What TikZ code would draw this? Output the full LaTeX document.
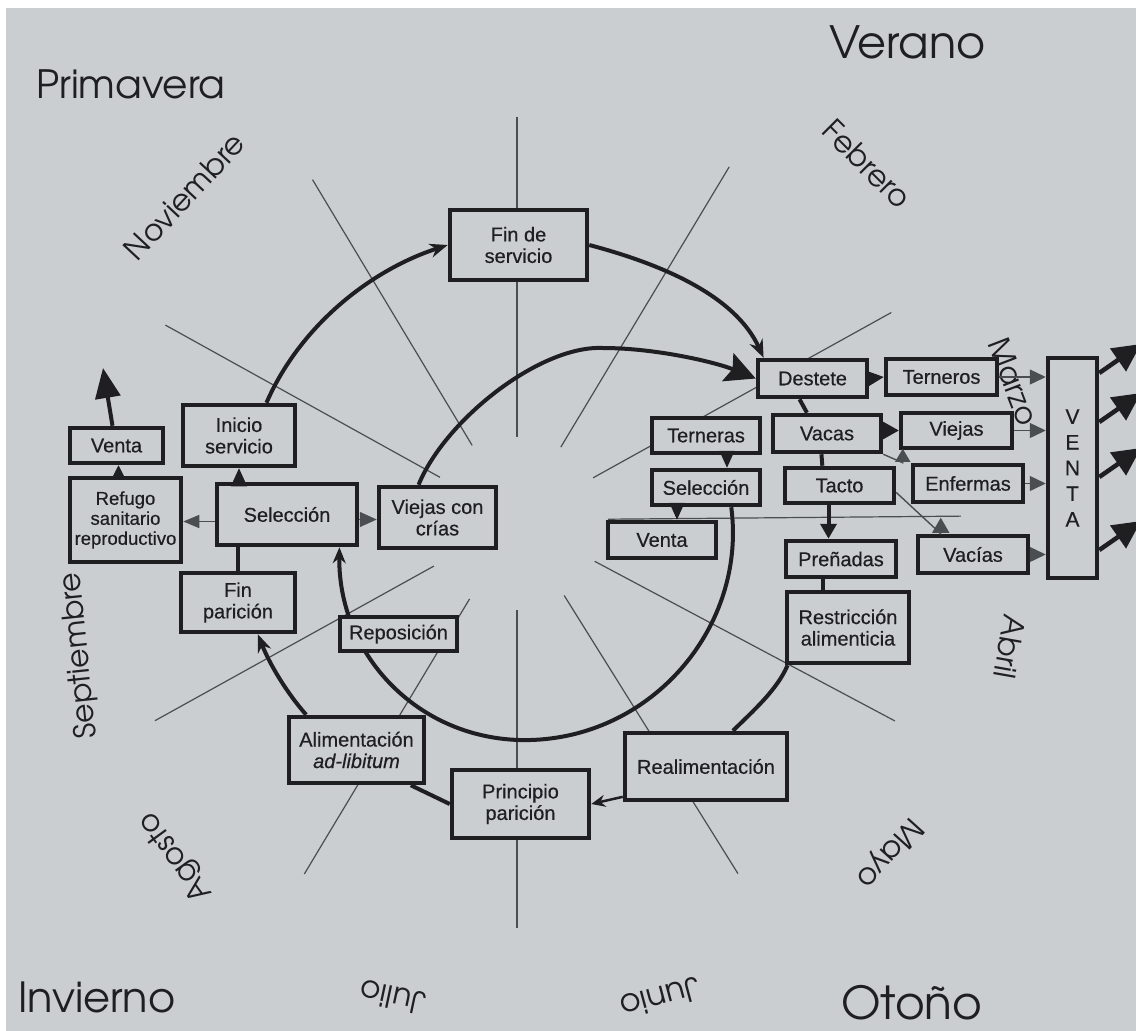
\documentclass[tikz,border=0pt]{standalone}
\usepackage{fontspec}
\setmainfont{Liberation Sans}[FakeBold=0.5]
\newfontfamily\gothic{texgyreadventor-regular.otf}
\usetikzlibrary{arrows.meta, backgrounds}

\definecolor{papel}{HTML}{CACED1}
\definecolor{tinta}{HTML}{1F1F21}
\definecolor{gris}{HTML}{4A4D51}

\tikzset{
  caja/.style={draw=tinta, fill=papel, line width=4.5pt, inner sep=0pt, align=center,
    text=tinta, font=\fontsize{20}{21.5}\selectfont},
  mes/.style={text=tinta, inner sep=0pt, font=\gothic\fontsize{#1}{#1}\selectfont},
  mes/.default=30,
  estacion/.style={text=tinta, inner sep=0pt, anchor=base west,
    font=\gothic\fontsize{#1}{#1}\selectfont},
  rayo/.style={draw=gris, line width=1.2pt},
  ciclo/.style={draw=tinta, line width=4pt},
  flecha/.style={ciclo, -{Stealth[length=18pt, width=14pt]}},
  tri/.style={draw=tinta, line width=1.2pt, -{Triangle[length=17pt, width=16pt]}},
  fino/.style={draw=gris, line width=1.4pt},
}

\begin{document}
\begin{tikzpicture}[x=1pt, y=-1pt]
  \useasboundingbox (0,0) rectangle (1136,1031);

  % estaciones y meses
  \node[estacion=39] (prim) at (36,98) {Primavera};
  \node[estacion=44.5] (ver) at (829,58) {Verano};
  \node[estacion=41.5] (inv) at (18,1012) {Invierno};
  \node[estacion=45.5] (oto) at (841,1019) {Otoño};
  \node[mes, rotate=47] (nov) at (184.5,196.5) {Noviembre};
  \node[mes, rotate=-45] (feb) at (867,164) {Febrero};
  \node[mes, rotate=-69] (mar) at (1013.5,381.5) {Marzo};
  \node[mes, rotate=-100] (abr) at (1010,647) {Abril};
  \node[mes, rotate=-132] (may) at (889,852.5) {Mayo};
  \node[mes=32, rotate=195] (jun) at (660.5,998) {Junio};
  \node[mes=31, rotate=168] (jul) at (393,997.5) {Julio};
  \node[mes, rotate=126] (ago) at (176,856.5) {Agosto};
  \node[mes, rotate=96] (sep) at (79.5,655.5) {Septiembre};

  % ciclo de la vaca
  \node[caja, minimum width=137, minimum height=70] (fin) at (518.5,245) {Fin de\\servicio};
  \node[caja, minimum width=112, minimum height=61] (inicio) at (239,435.5) {Inicio\\servicio};
  \node[caja, minimum width=93, minimum height=35] (ventaL) at (116.5,445.5) {Venta};
  \node[caja, minimum width=111, minimum height=84, font=\fontsize{18.5}{20}\selectfont]
    (refugio) at (125.5,520) {Refugo\\sanitario\\reproductivo};
  \node[caja, minimum width=140, minimum height=61] (selL) at (287,514.5) {Selección};
  \node[caja, minimum width=117, minimum height=61] (vcc) at (437.5,517.5) {Viejas con\\crías};
  \node[caja, minimum width=114, minimum height=59] (finp) at (238,602.5) {Fin\\parición};
  \node[caja, minimum width=117, minimum height=34] (repos) at (398.5,634) {Reposición};
  \node[caja, minimum width=135, minimum height=66] (alim) at (356.5,750) {Alimentación\\\textit{ad-libitum}};
  \node[caja, minimum width=137, minimum height=68] (princ) at (520.5,804) {Principio\\parición};
  \node[caja, minimum width=162, minimum height=67] (realim) at (706,766.5) {Realimentación};
  \node[caja, minimum width=122, minimum height=71] (restr) at (848,627.5) {Restricción\\alimenticia};

  % destete y descarte
  \node[caja, minimum width=109, minimum height=37] (destete) at (812.5,378.5) {Destete};
  \node[caja, minimum width=111, minimum height=36] (terneros) at (941.5,377) {Terneros};
  \node[caja, minimum width=108, minimum height=37] (vacas) at (827,433.5) {Vacas};
  \node[caja, minimum width=111, minimum height=35] (viejas) at (956.5,430.5) {Viejas};
  \node[caja, minimum width=108, minimum height=35] (terneras) at (706,435.5) {Terneras};
  \node[caja, minimum width=108, minimum height=35] (selR) at (706,487.5) {Selección};
  \node[caja, minimum width=108, minimum height=36] (ventaR) at (662,540) {Venta};
  \node[caja, minimum width=109, minimum height=35] (tacto) at (839.5,485.5) {Tacto};
  \node[caja, minimum width=110, minimum height=37] (enfermas) at (968,483.5) {Enfermas};
  \node[caja, minimum width=110, minimum height=37] (vacias) at (973,554.5) {Vacías};
  \node[caja, minimum width=110, minimum height=36] (pren) at (841,559) {Preñadas};
  \node[caja, minimum width=49, minimum height=220, font=\fontsize{21}{25.7}\selectfont]
    (venta) at (1072.5,468) {V\\E\\N\\T\\A};

  \begin{scope}[on background layer]
    \fill[white] (0,0) rectangle (1136,1031);
    \fill[papel] (6,8) rectangle (1136,1031);
    % rayos de los meses
    \begin{scope}[shift={(517,520)}]
      \foreach \a/\ri/\ro in {-90/83/403, -121/87/397, -151/88/402, -59/85/412, -29/87/428,
          -0.5/91/444, 28/88/428, 58/89/417, 90/90/408, 121/92/413, 151/95/414}
        \draw[rayo] (\a:\ri) -- (\a:\ro);
    \end{scope}
    % ciclo exterior
    \draw[flecha] (inicio.50) .. controls (299,328) and (368,271) .. (fin.west);
    \draw[flecha] (fin.east) .. controls (661,264) and (735,295) .. (destete.157);
    \draw[ciclo] (restr.-148) .. controls (777,690) and (753,711) .. (realim.53);
    \draw[ciclo] (princ.west) -- (alim.-33);
    \draw[flecha] (alim.145) .. controls (287,693) and (270,665) .. (finp.-58);
    \draw[ciclo] (finp.north) -- (finp.north |- selL.south);
    % ciclo interior
    \draw[ciclo, -{Stealth[length=30pt, width=30pt, inset=5pt]}] (vcc.120)
      .. controls (445,420) and (540,345) .. (603,348)
      .. controls (655,348) and (715,362) .. (destete.west);
    \draw[ciclo, -{Stealth[length=16pt, width=13pt]}] (selR.-38)
      .. controls (746,620) and (662,727) .. (546,739)
      .. controls (430,751) and (338,662) .. (selL.-32);
  \end{scope}

  \draw[draw=tinta, line width=2.5pt, -{Stealth[length=14pt, width=12pt]}] (realim.200) -- (princ.east);
  \draw[tri, -{Triangle[length=18pt, width=16pt]}] (inicio.south |- selL.north) -- (inicio.south);
  \draw[tri] (destete.east) -- (terneros.west);
  \draw[ciclo] (destete.-122) -- (vacas.134);
  \draw[tri, -{Triangle[length=18pt, width=20pt]}] (viejas.west -| vacas.east) -- (viejas.west);
  \draw[ciclo] (vacas.-105) -- (tacto.131);
  \draw[ciclo, -{Triangle[length=15pt, width=16pt]}] ([xshift=-11pt]tacto.south)
    -- ([xshift=-11pt]tacto.south |- pren.north);
  \draw[ciclo] ([xshift=-18pt]pren.south) -- ([xshift=-18pt]pren.south |- restr.north);
  \draw[tri, -{Triangle[length=17pt, width=15pt]}] ([xshift=21pt]terneras.south) -- ([xshift=21pt]selR.north);
  \draw[tri, -{Triangle[length=17pt, width=15pt]}] ([xshift=15pt]ventaR.north |- selR.south)
    -- ([xshift=15pt]ventaR.north);

  % descartes hacia VENTA
  \foreach \c in {terneros, viejas, enfermas, vacias}
    \draw[fino, -{Triangle[length=16pt, width=15pt]}] (\c.east) -- (\c.east -| venta.west);
  \draw[fino, -{Triangle[length=13pt, width=15pt]}] (vacas.south east)
    -- ([xshift=-8pt]enfermas.north west) -- ++(0,-14);
  \draw[fino, -{Triangle[length=15pt, width=17pt]}] (tacto.-7)
    -- ([xshift=25pt]vacias.north west) -- ++(0,-16);
  \foreach \y [count=\i] in {373, 422, 477, 550} {
    \coordinate (sale\i) at (1141,\y-29);
    \draw[ciclo, line width=4.5pt, -{Triangle[length=28pt, width=27pt]}] (venta.east |- 0,\y) -- (sale\i);
  }

  % descarte de la izquierda
  \coordinate (ventaup) at (103,368);
  \draw[ciclo, -{Triangle[length=30pt, width=25pt]}] ([xshift=-4pt]ventaL.north) -- (ventaup);
  \draw[tri, -{Triangle[length=14pt, width=14pt]}] ([xshift=-7pt]refugio.north)
    -- ([xshift=-7pt]refugio.north |- ventaL.south);
  \draw[fino, -{Triangle[length=16pt, width=13pt]}] ([yshift=-7pt]selL.west)
    -- ([yshift=-7pt]selL.west -| refugio.east);
  \draw[fino, -{Triangle[length=17pt, width=15pt]}] ([yshift=-5pt]selL.east)
    -- ([yshift=-5pt]selL.east -| vcc.west);
\end{tikzpicture}
\end{document}
